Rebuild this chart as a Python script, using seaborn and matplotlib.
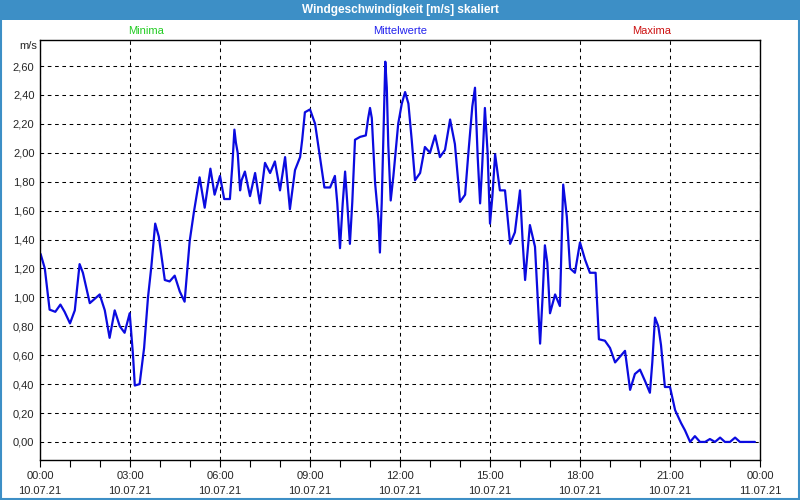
import matplotlib
matplotlib.use("Agg")
import matplotlib.pyplot as plt
from matplotlib.patches import Rectangle
import seaborn as sns
import pandas as pd

# ---- data (hours since 10.07.21 00:00, wind speed m/s) ----
hours = [0.02, 0.16, 0.32, 0.51, 0.68, 0.82, 1.0, 1.16, 1.32, 1.43, 1.66, 1.99, 2.16, 2.32,
         2.49, 2.66, 2.82, 2.99, 3.10, 3.16, 3.32, 3.47, 3.6, 3.71, 3.84, 3.96, 4.16, 4.32,
         4.49, 4.66, 4.82, 4.99, 5.13, 5.32, 5.49, 5.68, 5.82,
         6.0, 6.14, 6.33, 6.41, 6.48, 6.53, 6.59, 6.67, 6.72, 6.83, 6.92, 7.0, 7.17, 7.33,
         7.5, 7.67, 7.83, 8.0, 8.17, 8.33, 8.5, 8.67, 8.74, 8.83, 9.0, 9.17, 9.31, 9.48,
         9.67, 9.83, 9.91, 10.0, 10.09, 10.17, 10.24, 10.33, 10.41, 10.5, 10.67, 10.86,
         10.94, 11.0, 11.06, 11.17, 11.28, 11.33, 11.39, 11.48, 11.51, 11.56, 11.61, 11.69,
         11.78,
         11.83, 11.94, 12.06, 12.17, 12.28, 12.39, 12.5, 12.67, 12.83, 13.0, 13.17, 13.33,
         13.5, 13.67, 13.83, 14.0, 14.17, 14.28, 14.41, 14.5, 14.59, 14.67, 14.74, 14.83,
         14.92, 15.0, 15.08, 15.17, 15.33, 15.5, 15.67, 15.83, 16.0, 16.09, 16.17, 16.33,
         16.5, 16.67, 16.75, 16.83, 16.91, 17.0, 17.17, 17.33, 17.44, 17.56, 17.67, 17.83,
         18.0, 18.17, 18.33, 18.52, 18.63, 18.83, 19.0, 19.17, 19.5, 19.67, 19.83, 20.0,
         20.17, 20.33, 20.41, 20.5, 20.61, 20.7, 20.83, 21.0, 21.17, 21.37, 21.5, 21.67,
         21.83, 22.0, 22.17, 22.33, 22.5, 22.67, 22.83, 23.0, 23.17, 23.33, 23.5, 23.83]
speed = [1.30, 1.20, 0.915, 0.90, 0.95, 0.90, 0.82, 0.91, 1.23, 1.17, 0.96, 1.02, 0.91, 0.72,
         0.91, 0.80, 0.755, 0.89, 0.60, 0.39, 0.40, 0.65, 1.00, 1.21, 1.51, 1.42, 1.12, 1.11,
         1.15, 1.04, 0.97, 1.39, 1.59, 1.83, 1.62, 1.89, 1.71,
         1.84, 1.68, 1.68, 1.91, 2.16, 2.07, 2.00, 1.74, 1.81, 1.87, 1.78, 1.70, 1.86, 1.65,
         1.93, 1.86, 1.94, 1.74, 1.97, 1.61, 1.88, 1.97, 2.09, 2.28, 2.30, 2.20, 2.00, 1.76,
         1.76, 1.84, 1.65, 1.34, 1.65, 1.87, 1.66, 1.37, 1.66, 2.09, 2.11, 2.12,
         2.24, 2.31, 2.24, 1.79, 1.54, 1.31, 1.65, 2.39, 2.63, 2.45, 2.05, 1.67,
         1.84,
         1.95, 2.20, 2.34, 2.42, 2.34, 2.09, 1.81, 1.86, 2.04, 2.00, 2.12, 1.97,
         2.02, 2.23, 2.06, 1.66, 1.71, 2.00, 2.32, 2.45, 1.97, 1.65, 1.91, 2.31,
         2.00, 1.51, 1.70, 1.99, 1.74, 1.74, 1.37, 1.45, 1.74, 1.38, 1.12, 1.50,
         1.35, 0.68, 0.99, 1.36, 1.24, 0.89, 1.02, 0.94, 1.78, 1.56, 1.20, 1.17,
         1.38, 1.26, 1.17, 1.17, 0.71, 0.70, 0.65, 0.55, 0.63, 0.36, 0.47, 0.50,
         0.42, 0.34, 0.55, 0.86, 0.80, 0.67, 0.38, 0.38, 0.22, 0.13, 0.08, 0.00,
         0.04, 0.00, 0.00, 0.02, 0.00, 0.03, 0.00, 0.00, 0.03, 0.00, 0.00, 0.00]

x_ticks = [0, 3, 6, 9, 12, 15, 18, 21, 24]
x_tick_labels = ["00:00\n10.07.21", "03:00\n10.07.21", "06:00\n10.07.21",
                 "09:00\n10.07.21", "12:00\n10.07.21", "15:00\n10.07.21",
                 "18:00\n10.07.21", "21:00\n10.07.21", "00:00\n11.07.21"]
y_ticks = [0.0, 0.2, 0.4, 0.6, 0.8, 1.0, 1.2, 1.4, 1.6, 1.8, 2.0, 2.2, 2.4, 2.6]
y_tick_labels = ["0,00", "0,20", "0,40", "0,60", "0,80", "1,00", "1,20", "1,40",
                 "1,60", "1,80", "2,00", "2,20", "2,40", "2,60"]

title = "Windgeschwindigkeit [m/s] skaliert"
legend_labels = ["Minima", "Mittelwerte", "Maxima"]
legend_colors = ["#22cc22", "#2222ee", "#cc1111"]

sns.set_style("white")
plt.rcParams["font.family"] = ["Liberation Sans", "DejaVu Sans"]

fig = plt.figure(figsize=(8, 5), dpi=100)
W, H = 800, 500

def fx(px):
    return px / W

def fy(py):
    return 1 - py / H

ax = fig.add_axes([fx(40), fy(460), fx(760) - fx(40), fy(40) - fy(460)])

df = pd.DataFrame({"h": hours, "v": speed})
sns.lineplot(data=df, x="h", y="v", ax=ax, color="#0b0be0", linewidth=1.6,
             estimator=None, sort=False)

ax.set_xlim(0, 24)
ax.set_ylim(-0.125, 2.78)
ax.set_xticks(x_ticks)
ax.set_xticklabels(x_tick_labels, fontsize=8, linespacing=1.55)
ax.set_xticks(list(range(25)), minor=True)
ax.set_yticks(y_ticks)
ax.set_yticklabels(y_tick_labels, fontsize=8)
ax.set_xlabel("")
ax.set_ylabel("")
ax.tick_params(axis="x", which="both", direction="out", length=5, width=0.8,
               color="black", pad=3, bottom=True)
ax.tick_params(axis="y", length=0, pad=4)

ax.grid(True, which="major", color="black", linestyle=(0, (3.5, 3.5)), linewidth=0.75)
for s in ax.spines.values():
    s.set_color("black")
    s.set_linewidth(1.0)

# title bar
fig.patches.append(Rectangle((0, fy(20)), 1, fy(0) - fy(20), transform=fig.transFigure,
                             facecolor="#3d8fc6", edgecolor="none", zorder=0))
fig.patches.append(Rectangle((0.001, 0.002), 0.998, 0.997, transform=fig.transFigure,
                             facecolor="none", edgecolor="#3d8fc6", linewidth=1.5, zorder=1))
fig.text(fx(400), fy(10), title, color="white", fontsize=8.5, fontweight="bold",
         ha="center", va="center")

# header labels
for lab, col, px in zip(legend_labels, legend_colors, [146, 400, 652]):
    fig.text(fx(px), fy(31), lab, color=col, fontsize=8, ha="center", va="center")

fig.text(fx(37), fy(46), "m/s", fontsize=8, ha="right", va="center")

fig.savefig("out.png", dpi=100)
